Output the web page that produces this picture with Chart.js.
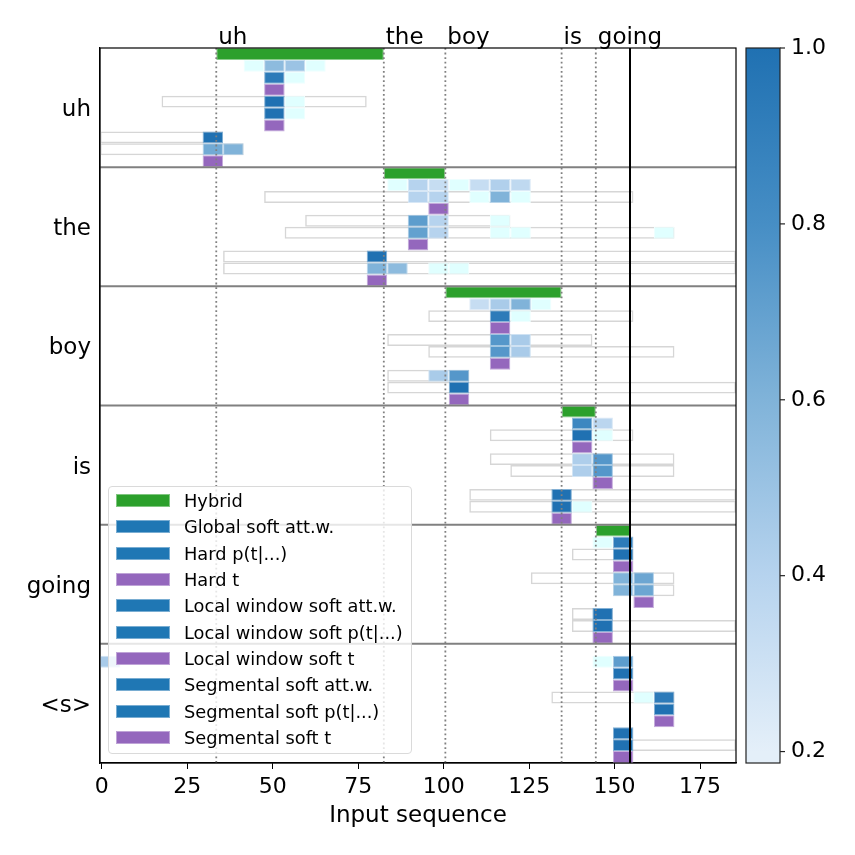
<!DOCTYPE html>
<html>
<head>
<meta charset="utf-8">
<title>Alignments per output label</title>
<script src="https://cdn.jsdelivr.net/npm/chart.js@4.4.1/dist/chart.umd.min.js"></script>
<style>
  body { margin: 0; background: #fff; }
  #wrap { position: relative; width: 855px; height: 855px; }
  #legend {
    position: absolute;
    box-sizing: border-box;
    border: 1px solid #dadada;
    border-radius: 4px;
    background: rgba(255, 255, 255, 0.8);
    font-family: 'DejaVu Sans', sans-serif;
    font-size: 17.8px;
    color: #000;
    padding: 1px 8px 3px 7px;
  }
  .item { display: flex; align-items: center; height: 26.3px; white-space: nowrap; }
  .patch { width: 54px; height: 13px; margin-right: 14px; box-sizing: border-box; border: 1px solid; }
</style>
</head>
<body>
<div id="wrap">
  <canvas id="chart" width="855" height="855"></canvas>
  <div id="legend"></div>
</div>

<script>
// ---------------------------------------------------------------
// data
// ---------------------------------------------------------------

// output labels (one block of rows each)
var words = ['uh', 'the', 'boy', 'is', 'going', '<s>'];

// one sub-row per method inside every block
var methods = ['Hybrid', 'Global soft att.w.', 'Hard p(t|...)', 'Hard t',
  'Local window soft att.w.', 'Local window soft p(t|...)', 'Local window soft t',
  'Segmental soft att.w.', 'Segmental soft p(t|...)', 'Segmental soft t'];
var methodKind = ['hybrid', 'soft', 'soft', 'argmax', 'soft', 'soft', 'argmax', 'soft', 'soft', 'argmax'];

// word start frames (dotted lines) and end of the sequence (solid line)
var wordStarts = [33.5, 82.5, 100.5, 134.5, 144.5];
var seqEnd = 154.5;

// each cell covers this many input frames
var framesPerCell = 6;

var xTicks = [0, 25, 50, 75, 100, 125, 150, 175];
var cbTicks = [0.2, 0.4, 0.6, 0.8, 1.0];
var cbMin = 0.187;

// cells: [method, cell index, weight]  (weight < 0.2 is drawn in the "under" colour)
var cellsUh = [[1, 7, 0.1], [1, 8, 0.55], [1, 9, 0.5], [1, 10, 0.1],
  [2, 8, 0.93], [2, 9, 0.1], [3, 8, 1],
  [4, 8, 1], [4, 9, 0.1], [5, 8, 1], [5, 9, 0.1], [6, 8, 1],
  [7, 5, 1], [8, 5, 0.65], [8, 6, 0.6], [9, 5, 1]];
var cellsThe = [[1, 14, 0.1], [1, 15, 0.4], [1, 16, 0.33], [1, 17, 0.1], [1, 18, 0.33], [1, 19, 0.42], [1, 20, 0.36],
  [2, 15, 0.4], [2, 16, 0.4], [2, 18, 0.1], [2, 19, 0.6], [2, 20, 0.1], [3, 16, 1],
  [4, 15, 0.72], [4, 16, 0.4], [4, 19, 0.1],
  [5, 15, 0.7], [5, 16, 0.4], [5, 19, 0.1], [5, 20, 0.1], [5, 27, 0.1], [6, 15, 1],
  [7, 13, 1], [8, 13, 0.6], [8, 14, 0.55], [8, 16, 0.1], [8, 17, 0.1], [9, 13, 1]];
var cellsBoy = [[1, 18, 0.33], [1, 19, 0.45], [1, 20, 0.6], [1, 21, 0.1],
  [2, 19, 0.93], [2, 20, 0.1], [3, 19, 1],
  [4, 19, 0.75], [4, 20, 0.45], [5, 19, 0.75], [5, 20, 0.45], [6, 19, 1],
  [7, 16, 0.45], [7, 17, 0.75], [8, 17, 1], [9, 17, 1]];
var cellsIs = [[1, 23, 0.85], [1, 24, 0.38],
  [2, 23, 1], [2, 24, 0.1], [3, 23, 1],
  [4, 23, 0.43], [4, 24, 0.75], [5, 23, 0.43], [5, 24, 0.75], [6, 24, 1],
  [7, 22, 1], [8, 22, 1], [8, 23, 0.1], [9, 22, 1]];
var cellsGoing = [[1, 24, 0.1], [1, 25, 0.93],
  [2, 25, 1], [3, 25, 1],
  [4, 25, 0.6], [4, 26, 0.67], [5, 25, 0.6], [5, 26, 0.67], [6, 26, 1],
  [7, 24, 1], [8, 24, 1], [9, 24, 1]];
var cellsEos = [[1, 0, 0.45], [1, 24, 0.1], [1, 25, 0.72],
  [2, 25, 1], [3, 25, 1],
  [4, 26, 0.1], [4, 27, 0.93], [5, 27, 1], [6, 27, 1],
  [7, 25, 1], [8, 25, 1], [9, 25, 1]];

// allowed windows / segments: [method, first cell, last cell]
var windowsUh = [[4, 3, 12], [7, 0, 5], [8, 0, 6]];
var windowsThe = [[2, 8, 25], [4, 10, 19], [5, 9, 27], [7, 6, 30], [8, 6, 30]];
var windowsBoy = [[2, 16, 25], [4, 14, 23], [5, 16, 27], [7, 14, 17], [8, 14, 30]];
var windowsIs = [[2, 19, 25], [4, 19, 27], [5, 20, 27], [7, 18, 30], [8, 18, 30]];
var windowsGoing = [[2, 23, 25], [4, 21, 27], [5, 25, 27], [7, 23, 24], [8, 23, 30]];
var windowsEos = [[4, 22, 27], [8, 25, 30]];

var cellsByWord = [cellsUh, cellsThe, cellsBoy, cellsIs, cellsGoing, cellsEos];
var windowsByWord = [windowsUh, windowsThe, windowsBoy, windowsIs, windowsGoing, windowsEos];

// ---------------------------------------------------------------
// colours
// ---------------------------------------------------------------
var colHybrid = [44, 160, 44];
var colSoft = [31, 119, 180];
var colArgmax = [148, 103, 189];
var colUnder = [224, 255, 255];
var cmapStops = [[0.2, [228, 239, 249]], [0.4, [182, 211, 238]], [0.6, [128, 179, 217]],
  [0.8, [70, 142, 197]], [1.0, [32, 113, 178]]];

function rgb(c) { return 'rgb(' + c.map(Math.round).join(',') + ')'; }
function mixWhite(c, f) { return c.map(function (v) { return v + (255 - v) * f; }); }

function cmap(v) {
  if (v < cmapStops[0][0]) return colUnder;
  for (var i = 1; i < cmapStops.length; i++) {
    if (v <= cmapStops[i][0]) {
      var a = cmapStops[i - 1], b = cmapStops[i];
      var t = (v - a[0]) / (b[0] - a[0]);
      return a[1].map(function (c, j) { return c + (b[1][j] - c) * t; });
    }
  }
  return cmapStops[cmapStops.length - 1][1];
}

// ---------------------------------------------------------------
// datasets
// ---------------------------------------------------------------
function subRow(r, m) { return r * methods.length + m + 0.5; }
function cellSpan(k0, k1) { return [k0 * framesPerCell - 0.5, (k1 + 1) * framesPerCell - 0.5]; }

var hybridData = [], softData = [], argmaxData = [], windowData = [];

for (var r = 0; r < words.length; r++) {
  if (r < wordStarts.length) {
    var end = r + 1 < wordStarts.length ? wordStarts[r + 1] : seqEnd;
    hybridData.push({ x: [wordStarts[r], end], y: subRow(r, 0) });
  }
  cellsByWord[r].forEach(function (c) {
    var p = { x: cellSpan(c[1], c[1]), y: subRow(r, c[0]), v: c[2] };
    if (methodKind[c[0]] === 'argmax') argmaxData.push(p); else softData.push(p);
  });
  windowsByWord[r].forEach(function (w) {
    windowData.push({ x: cellSpan(w[1], w[2]), y: subRow(r, w[0]) });
  });
}

var barCommon = {
  grouped: false,
  barPercentage: 1,
  categoryPercentage: 1,
  borderWidth: 1,
  borderSkipped: false,
  inflateAmount: 0
};

function dataset(label, data, bg, border, order) {
  return Object.assign({ label: label, data: data, backgroundColor: bg, borderColor: border, order: order }, barCommon);
}

var datasets = [
  dataset('hybrid', hybridData, rgb(colHybrid), rgb(mixWhite(colHybrid, 0.45)), 1),
  dataset('soft', softData,
    function (ctx) { return ctx.raw ? rgb(cmap(ctx.raw.v)) : rgb(colSoft); },
    function (ctx) { return ctx.raw ? rgb(mixWhite(cmap(ctx.raw.v), 0.45)) : rgb(colSoft); }, 1),
  dataset('argmax', argmaxData, rgb(colArgmax), rgb(mixWhite(colArgmax, 0.45)), 1),
  dataset('window', windowData, 'rgba(255,255,255,0)', '#d6d6d6', 2)
];
datasets[3].borderWidth = 1.5;

// ---------------------------------------------------------------
// separators, word boundaries, frame, word names on top, colorbar
// ---------------------------------------------------------------
var overlay = {
  id: 'overlay',
  afterDatasetsDraw: function (chart) {
    var ctx = chart.ctx, a = chart.chartArea;
    var x = chart.scales.x, y = chart.scales.y, cb = chart.scales.cb;
    ctx.save();

    // block separators
    ctx.strokeStyle = '#808080';
    ctx.lineWidth = 2;
    for (var r = 1; r < words.length; r++) {
      var py = y.getPixelForValue(r * methods.length);
      ctx.beginPath(); ctx.moveTo(a.left, py); ctx.lineTo(a.right, py); ctx.stroke();
    }

    // word starts
    ctx.setLineDash([1.8, 2.8]);
    ctx.lineWidth = 1.8;
    wordStarts.forEach(function (b) {
      var px = x.getPixelForValue(b);
      ctx.beginPath(); ctx.moveTo(px, a.top); ctx.lineTo(px, a.bottom); ctx.stroke();
    });
    ctx.setLineDash([]);

    // end of sequence
    ctx.strokeStyle = '#000';
    ctx.lineWidth = 2;
    var pe = x.getPixelForValue(seqEnd);
    ctx.beginPath(); ctx.moveTo(pe, a.top); ctx.lineTo(pe, a.bottom); ctx.stroke();

    // frame
    ctx.lineWidth = 1.2;
    ctx.strokeRect(a.left, a.top, a.right - a.left, a.bottom - a.top);

    // word names above the plot
    ctx.fillStyle = '#000';
    ctx.font = "23px 'DejaVu Sans'";
    ctx.textAlign = 'left';
    ctx.textBaseline = 'alphabetic';
    wordStarts.forEach(function (b, i) {
      ctx.fillText(words[i], x.getPixelForValue(b) + 2, a.top - 4);
    });

    // colorbar
    var cx0 = a.right + 10, cx1 = a.right + 44;
    var top = cb.getPixelForValue(1), bot = cb.getPixelForValue(cbMin);
    var g = ctx.createLinearGradient(0, bot, 0, top);
    cmapStops.forEach(function (s) {
      g.addColorStop(Math.max(0, (s[0] - cbMin) / (1 - cbMin)), rgb(s[1]));
    });
    ctx.fillStyle = g;
    ctx.fillRect(cx0, top, cx1 - cx0, bot - top);
    ctx.strokeStyle = '#222';
    ctx.lineWidth = 1.2;
    ctx.strokeRect(cx0, top, cx1 - cx0, bot - top);
    ctx.fillStyle = '#000';
    ctx.font = "22px 'DejaVu Sans'";
    ctx.textBaseline = 'middle';
    cbTicks.forEach(function (t) {
      var ty = cb.getPixelForValue(t);
      ctx.beginPath(); ctx.moveTo(cx1, ty); ctx.lineTo(cx1 + 5, ty); ctx.stroke();
      ctx.fillText(t.toFixed(1), cx1 + 11, ty);
    });
    ctx.restore();
  }
};

// ---------------------------------------------------------------
// chart
// ---------------------------------------------------------------
Chart.defaults.font.family = "'DejaVu Sans', sans-serif";
Chart.defaults.color = '#000';

var chart = new Chart(document.getElementById('chart').getContext('2d'), {
  type: 'bar',
  data: { datasets: datasets },
  options: {
    indexAxis: 'y',
    responsive: false,
    animation: false,
    events: [],
    layout: { padding: { top: 48, right: 119, left: 0, bottom: 0 } },
    plugins: { legend: { display: false }, tooltip: { enabled: false } },
    scales: {
      x: {
        type: 'linear',
        min: -0.5,
        max: 185.5,
        offset: false,
        afterBuildTicks: function (axis) { axis.ticks = xTicks.map(function (v) { return { value: v }; }); },
        afterFit: function (axis) { axis.height = 92; },
        ticks: { font: { size: 22 }, color: '#000', padding: 5, maxRotation: 0 },
        grid: { drawOnChartArea: false, tickLength: 6, tickColor: '#000', offset: false },
        border: { color: '#000', width: 1.2 },
        title: { display: true, text: 'Input sequence', font: { size: 23 }, color: '#000', padding: { top: 0, bottom: 25 } }
      },
      y: {
        type: 'linear',
        min: 0,
        max: words.length * methods.length,
        reverse: true,
        offset: false,
        afterBuildTicks: function (axis) {
          axis.ticks = words.map(function (w, i) { return { value: i * methods.length + methods.length / 2 }; });
        },
        afterFit: function (axis) { axis.width = 100; },
        ticks: { font: { size: 23 }, color: '#000', padding: 9, labelOffset: 2.5, callback: function (v, i) { return words[i]; } },
        grid: { drawOnChartArea: false, drawTicks: false, offset: false },
        border: { color: '#000', width: 1.2 }
      },
      cb: { type: 'linear', axis: 'y', position: 'right', display: false, offset: false, min: cbMin, max: 1 }
    }
  },
  plugins: [overlay]
});

// ---------------------------------------------------------------
// legend (inside the plot, lower left)
// ---------------------------------------------------------------
var legendEl = document.getElementById('legend');
methods.forEach(function (m, i) {
  var c = methodKind[i] === 'hybrid' ? colHybrid : methodKind[i] === 'argmax' ? colArgmax : colSoft;
  var item = document.createElement('div');
  item.className = 'item';
  var patch = document.createElement('span');
  patch.className = 'patch';
  patch.style.background = rgb(c);
  patch.style.borderColor = rgb(mixWhite(c, 0.4));
  var txt = document.createElement('span');
  txt.textContent = m;
  item.appendChild(patch);
  item.appendChild(txt);
  legendEl.appendChild(item);
});
var area = chart.chartArea;
legendEl.style.left = (area.left + 8) + 'px';
legendEl.style.top = (area.bottom - 8.5 - legendEl.offsetHeight) + 'px';
</script>
</body>
</html>
